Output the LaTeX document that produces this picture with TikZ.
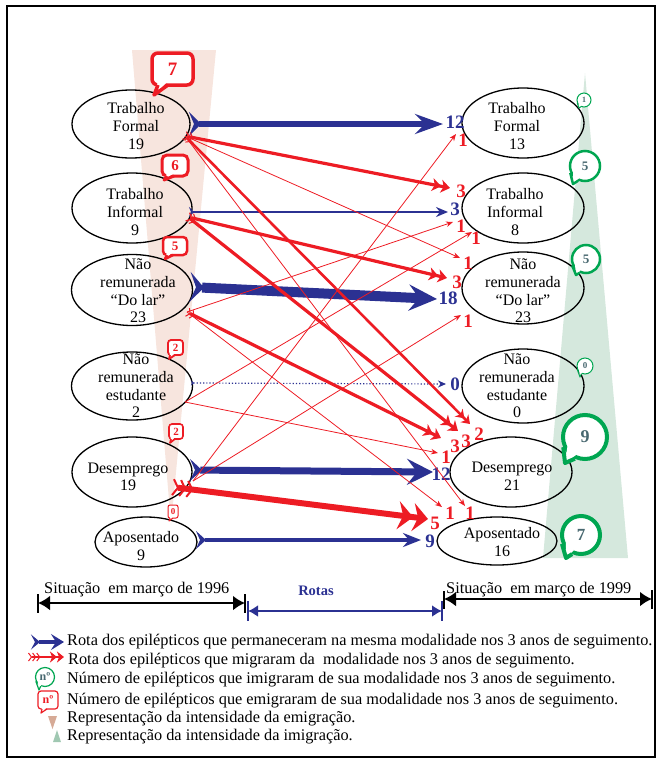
\documentclass[tikz,border=0pt]{standalone}
\usepackage{fontspec}
\setmainfont{Liberation Serif}
\usetikzlibrary{arrows.meta,shapes.geometric,calc}
\definecolor{rr}{RGB}{237,28,36}
\definecolor{bb}{RGB}{43,49,146}
\definecolor{gg}{RGB}{0,166,81}
\definecolor{gt}{RGB}{72,104,112}
\definecolor{pinkbg}{RGB}{247,229,222}
\definecolor{greenbg}{RGB}{213,232,221}
\definecolor{pinkicon}{RGB}{214,170,150}
\definecolor{greenicon}{RGB}{160,200,178}
\tikzset{
 state/.style={ellipse, draw, line width=1.3pt, inner sep=0pt},
 stxt/.style={align=center, inner sep=0pt, font=\fontsize{16}{17.6}\selectfont},
 blab/.style={text=bb, inner sep=0pt, font=\fontsize{19}{19}\selectfont\bfseries},
 rlab/.style={text=rr, inner sep=0pt, font=\fontsize{19}{19}\selectfont\bfseries},
 ebox/.style={draw=rr, fill=white, inner sep=0pt, text=rr},
 gcirc/.style={circle, draw=gg, fill=white, inner sep=0pt, text=gt},
 leg/.style={anchor=west, inner sep=0pt, font=\fontsize{16.3}{18}\selectfont},
 r1/.style={draw=rr, line width=0.8pt, -{Stealth[length=7pt,width=5.5pt]}},
 r2/.style={draw=rr, line width=2.6pt, {Straight Barb[reversed,length=3pt,width=8pt,line width=1pt]Straight Barb[reversed,length=3pt,width=8pt,line width=1pt]}-{Stealth[length=8pt,width=11pt,inset=2.5pt]Stealth[length=8pt,width=11pt,inset=2.5pt]}},
 r3/.style={draw=rr, line width=3.2pt, {Straight Barb[reversed,length=3pt,width=9pt,line width=1pt]Straight Barb[reversed,length=3pt,width=9pt,line width=1pt]}-{Stealth[length=9pt,width=13pt,inset=2.5pt]Stealth[length=9pt,width=13pt,inset=2.5pt]}},
 r5/.style={draw=rr, line width=6pt, {Straight Barb[reversed,length=5pt,width=16pt,line width=2pt]Straight Barb[reversed,length=5pt,width=16pt,line width=2pt]Straight Barb[reversed,length=5pt,width=16pt,line width=2pt]}-{Stealth[length=15pt,width=28pt,inset=5pt]Stealth[length=15pt,width=28pt,inset=5pt]}},
}
\begin{document}
\begin{tikzpicture}[x=1pt,y=-1pt]
\useasboundingbox (0,0) rectangle (662,764);
% background intensity shapes
\fill[pinkbg] (132,50) -- (216,50) -- (171,525) -- cycle;
\fill[greenbg] (585,73) -- (628,558) -- (543,558) -- cycle;
% frame
\draw[line width=2.5pt] (7,6) rectangle (655,757);

% left states
\node[state, minimum width=118pt, minimum height=68pt] (L1) at (131,124) {};
\node[stxt] (L1t) at (136,126) {Trabalho\\Formal\\19};
\node[state, minimum width=120pt, minimum height=70pt] (L2) at (132,208) {};
\node[stxt] (L2t) at (135,212) {Trabalho\\Informal\\9};
\node[state, minimum width=121pt, minimum height=71pt] (L3) at (132,290) {};
\node[stxt] (L3t) at (138,291) {Não\\remunerada\\“Do lar”\\23};
\node[state, minimum width=121pt, minimum height=68pt] (L4) at (132,386) {};
\node[stxt] (L4t) at (136,386) {Não\\remunerada\\estudante\\2};
\node[state, minimum width=120pt, minimum height=70pt] (L5) at (132,472) {};
\node[stxt] (L5t) at (128,477) {Desemprego\\19};
\node[state, minimum width=102pt, minimum height=50pt] (L6) at (146,542) {};
\node[stxt] (L6t) at (141,546) {Aposentado\\9};

% right states
\node[state, minimum width=122pt, minimum height=70pt] (R1) at (523,123) {};
\node[stxt] (R1t) at (517,126) {Trabalho\\Formal\\13};
\node[state, minimum width=122pt, minimum height=70pt] (R2) at (523,208) {};
\node[stxt] (R2t) at (515,212) {Trabalho\\Informal\\8};
\node[state, minimum width=122pt, minimum height=72pt] (R3) at (523,288) {};
\node[stxt] (R3t) at (523,291) {Não\\remunerada\\“Do lar”\\23};
\node[state, minimum width=122pt, minimum height=74pt] (R4) at (523,386) {};
\node[stxt] (R4t) at (517,386) {Não\\remunerada\\estudante\\0};
\node[state, minimum width=122pt, minimum height=70pt] (R5) at (511,472) {};
\node[stxt] (R5t) at (512,476) {Desemprego\\21};
\node[state, minimum width=120pt, minimum height=48pt] (R6) at (497,541) {};
\node[stxt] (R6t) at (502,542) {Aposentado\\16};

% blue "stay" arrows
\coordinate (bs1) at (189,124); \coordinate (be1) at (443,124);
\coordinate (bs2) at (189,212); \coordinate (be2) at (448,212);
\coordinate (bs3) at (190,287); \coordinate (be3) at (437,299);
\coordinate (bs4) at (191,383); \coordinate (be4) at (446,384);
\coordinate (bs5) at (190,470); \coordinate (be5) at (433,472);
\coordinate (bs6) at (196,540); \coordinate (be6) at (421,540);
\draw[bb, line width=6pt, {Stealth[reversed,length=12pt,width=24pt,inset=5pt]}-{Stealth[length=28pt,width=20pt,inset=10pt]}] (bs1) -- (be1);
\draw[bb, line width=2.5pt, {Stealth[reversed,length=5pt,width=10pt,inset=2pt]}-{Stealth[length=12pt,width=10pt,inset=4pt]}] (bs2) -- (be2);
\draw[bb, line width=10pt, {Stealth[reversed,length=14pt,width=30pt,inset=6pt]}-{Stealth[length=28pt,width=26pt,inset=10pt]}] (bs3) -- (be3);
\draw[bb, line width=1.2pt, dotted, {Stealth[reversed,length=3pt,width=5pt]}-{Stealth[length=8pt,width=7pt]}] (bs4) -- (be4);
\draw[bb, line width=7pt, {Stealth[reversed,length=12pt,width=22pt,inset=5pt]}-{Stealth[length=26pt,width=26pt,inset=10pt]}] (bs5) -- (be5);
\draw[bb, line width=4.5pt, {Stealth[reversed,length=10pt,width=18pt,inset=4pt]}-{Stealth[length=18pt,width=14pt,inset=6pt]}] (bs6) -- (be6);
\node[blab] (b1) at (455,122) {12};
\node[blab] (b2) at (455,209) {3};
\node[blab] (b3) at (448,298) {18};
\node[blab] (b4) at (455,384) {0};
\node[blab] (b5) at (441,474) {12};
\node[blab] (b6) at (430,541) {9};

% red migration arrows
\coordinate (sTF) at (185,136);
\coordinate (sTI) at (188,217);
\coordinate (sDL) at (187,312);
\coordinate (sNR) at (185,402);
\coordinate (sDE) at (193,481);
\coordinate (sD5) at (172,487);
\coordinate (eTFTI) at (450,188);
\coordinate (eTFDL) at (460,258);
\coordinate (eTFDE) at (470,424);
\coordinate (eTFAP) at (465,506);
\coordinate (eTIDL) at (447,278);
\coordinate (eTIDE) at (458,431);
\coordinate (eDLDE) at (441,438);
\coordinate (eDLTI) at (453,222);
\coordinate (eDLAP) at (442,507);
\coordinate (eNRTI) at (472,232);
\coordinate (eNRDE) at (438,453);
\coordinate (eDETF) at (456,134);
\coordinate (eDEDL) at (461,315);
\coordinate (eDEAP) at (428,519);
\draw[r3] (sTF) -- (eTFTI);
\draw[r1] (sTF) -- (eTFDL);
\draw[r2] (sTF) -- (eTFDE);
\draw[r1] (sTF) -- (eTFAP);
\draw[r3] (sTI) -- (eTIDL);
\draw[r3] (sTI) -- (eTIDE);
\draw[r3] (sDL) -- (eDLDE);
\draw[r1] (sDL) -- (eDLTI);
\draw[r1] (sDL) -- (eDLAP);
\draw[r1] (sNR) -- (eNRTI);
\draw[r1] (sNR) -- (eNRDE);
\draw[r1] (sDE) -- (eDETF);
\draw[r1] (sDE) -- (eDEDL);
\draw[r5] (sD5) -- (eDEAP);
\node[rlab] (l1) at (463,140) {1};
\node[rlab] (l2) at (461,191) {3};
\node[rlab] (l3) at (461,226) {1};
\node[rlab] (l4) at (476,238) {1};
\node[rlab] (l5) at (468,263) {1};
\node[rlab] (l6) at (457,282) {3};
\node[rlab] (l7) at (468,321) {1};
\node[rlab] (l8) at (479,434) {2};
\node[rlab] (l9) at (466,441) {3};
\node[rlab] (l10) at (455,446) {3};
\node[rlab] (l11) at (446,457) {1};
\node[rlab] (l12) at (435,523) {5};
\node[rlab] (l13) at (450,513) {1};
\node[rlab] (l14) at (470,513) {1};

% emigration boxes
\node[ebox, rounded corners=6pt, line width=3.5pt, minimum width=41pt, minimum height=32pt, font=\fontsize{19}{19}\selectfont\bfseries] (e1) at (172.5,69) {7};
\fill[white] (158,81) -- (154,95) -- (168,81) -- cycle;
\draw[rr, line width=3.5pt, line join=round] (158,85) -- (154,95) -- (168,85);
\node[ebox, rounded corners=5pt, line width=3pt, minimum width=26pt, minimum height=21pt, font=\fontsize{15}{15}\selectfont\bfseries] (e2) at (175,165.5) {6};
\fill[white] (167,173) -- (164,180) -- (174,173) -- cycle;
\draw[rr, line width=3pt, line join=round] (167,176) -- (164,180) -- (174,176);
\node[ebox, rounded corners=4pt, line width=2.5pt, minimum width=24pt, minimum height=18pt, font=\fontsize{13}{13}\selectfont\bfseries] (e3) at (175,246) {5};
\fill[white] (167,252) -- (165,259) -- (173,252) -- cycle;
\draw[rr, line width=2.5pt, line join=round] (167,255) -- (165,259) -- (173,255);
\node[ebox, rounded corners=3pt, line width=1.8pt, minimum width=15pt, minimum height=15pt, font=\fontsize{11}{11}\selectfont\bfseries] (e4) at (175.5,347.5) {2};
\fill[white] (170,353) -- (169,359) -- (175,353) -- cycle;
\draw[rr, line width=1.8pt, line join=round] (170,355) -- (169,359) -- (175,355);
\node[ebox, rounded corners=3pt, line width=1.6pt, minimum width=14pt, minimum height=15pt, font=\fontsize{11}{11}\selectfont\bfseries] (e5) at (176,431.5) {2};
\fill[white] (171,437) -- (170,443) -- (175,437) -- cycle;
\draw[rr, line width=1.6pt, line join=round] (171,439) -- (170,443) -- (175,439);
\node[ebox, rounded corners=2pt, line width=1pt, minimum width=10pt, minimum height=13pt, font=\fontsize{9}{9}\selectfont\bfseries] (e6) at (173,511.5) {0};
\fill[white] (170,517) -- (169,521) -- (173,517) -- cycle;
\draw[rr, line width=1pt, line join=round] (170,518) -- (169,521) -- (173,518);

% immigration circles
\node[gcirc, line width=1pt, minimum size=14pt, font=\fontsize{8}{8}\selectfont\bfseries] (g1) at (584,100) {1};
\node[gcirc, line width=2.5pt, minimum size=30pt, font=\fontsize{13}{13}\selectfont\bfseries] (g2) at (585,166) {5};
\node[gcirc, line width=2.5pt, minimum size=28pt, font=\fontsize{13}{13}\selectfont\bfseries] (g3) at (586,259) {5};
\node[gcirc, line width=1pt, minimum size=16pt, font=\fontsize{9}{9}\selectfont\bfseries] (g4) at (585,366) {0};
\node[gcirc, line width=4pt, minimum size=44pt, font=\fontsize{18}{18}\selectfont\bfseries] (g5) at (585,437) {9};
\node[gcirc, line width=4pt, minimum size=38pt, font=\fontsize{17}{17}\selectfont\bfseries] (g6) at (581,535) {7};
\foreach \g/\tx/\ty/\w in {g1/579/108/1, g2/573/184/2.5, g3/576/275/2.5, g4/580/377/1, g5/565/463/4, g6/566/558/4}{
  \fill[white] ($(\g.center)!0.8!(\g.205)$) -- (\tx,\ty) -- ($(\g.center)!0.8!(\g.245)$) -- cycle;
  \draw[gg, line width=\w pt, line join=round] (\g.205) -- (\tx,\ty) -- (\g.245);
}

% time line
\coordinate (ta) at (38,603); \coordinate (tb) at (245,603);
\coordinate (tc) at (248,611); \coordinate (td) at (442,611);
\coordinate (te) at (444,599); \coordinate (tf) at (652,599);
\draw[line width=2.8pt, {Latex[length=12pt,width=15pt]}-{Latex[length=12pt,width=15pt]}] (ta) -- (tb);
\draw[line width=2.8pt] (38,594) -- (38,613) (245,594) -- (245,613);
\draw[bb, line width=2pt, {Latex[length=10pt,width=12pt]}-{Latex[length=10pt,width=12pt]}] (tc) -- (td);
\draw[bb, line width=1.5pt] (248,601) -- (248,621) (442,601) -- (442,621);
\draw[line width=2.8pt, {Latex[length=12pt,width=15pt]}-{Latex[length=12pt,width=15pt]}] (te) -- (tf);
\draw[line width=2.8pt] (444,591) -- (444,609) (652,590) -- (652,609);
\node[leg] (tx1) at (44,590) {Situação~ em março de 1996};
\node[text=bb, inner sep=0pt, font=\fontsize{14.5}{14.5}\selectfont\bfseries] (tx2) at (316,591) {Rotas};
\node[leg] (tx3) at (446,590) {Situação~ em março de 1999};

% legend
\coordinate (lb1) at (31,642); \coordinate (lb2) at (64,642);
\draw[bb, line width=4pt, {Stealth[reversed,length=9pt,width=15pt,inset=4pt]}-{Stealth[length=13pt,width=16pt,inset=5pt]}] (lb1) -- (lb2);
\coordinate (lr1) at (28,657); \coordinate (lr2) at (64,657);
\draw[rr, line width=1.8pt, {Straight Barb[reversed,length=3pt,width=8pt,line width=1pt]Straight Barb[reversed,length=3pt,width=8pt,line width=1pt]Straight Barb[reversed,length=3pt,width=8pt,line width=1pt]}-{Stealth[length=7pt,width=11pt,inset=2pt]Stealth[length=7pt,width=11pt,inset=2pt]}] (lr1) -- (lr2);
\node[gcirc, line width=1.2pt, minimum size=19pt, font=\fontsize{12}{12}\selectfont\bfseries] (lg) at (45,677) {nº};
\fill[white] ($(lg.center)!0.8!(lg.205)$) -- (39,690) -- ($(lg.center)!0.8!(lg.245)$) -- cycle;
\draw[gg, line width=1.2pt, line join=round] (lg.205) -- (39,690) -- (lg.245);
\node[ebox, rounded corners=3pt, line width=1.2pt, minimum width=20pt, minimum height=18pt, font=\fontsize{12}{12}\selectfont\bfseries] (lr) at (48,700) {nº};
\fill[white] (42,707) -- (41,713) -- (47,707) -- cycle;
\draw[rr, line width=1.2pt, line join=round] (42,709) -- (41,713) -- (47,709);
\fill[pinkicon] (48,716) -- (57,716) -- (52.5,729) -- cycle;
\fill[greenicon] (53,742) -- (61,742) -- (57,730) -- cycle;
\node[leg] (lt1) at (67,642) {Rota dos epilépticos que permaneceram na mesma modalidade nos 3 anos de seguimento.};
\node[leg] (lt2) at (68,661) {Rota dos epilépticos que migraram da~ modalidade nos 3 anos de seguimento.};
\node[leg] (lt3) at (67,680) {Número de epilépticos que imigraram de sua modalidade nos 3 anos de seguimento.};
\node[leg] (lt4) at (67,701) {Número de epilépticos que emigraram de sua modalidade nos 3 anos de seguimento.};
\node[leg] (lt5) at (67,719) {Representação da intensidade da emigração.};
\node[leg] (lt6) at (67,737) {Representação da intensidade da imigração.};
\end{tikzpicture}
\end{document}
